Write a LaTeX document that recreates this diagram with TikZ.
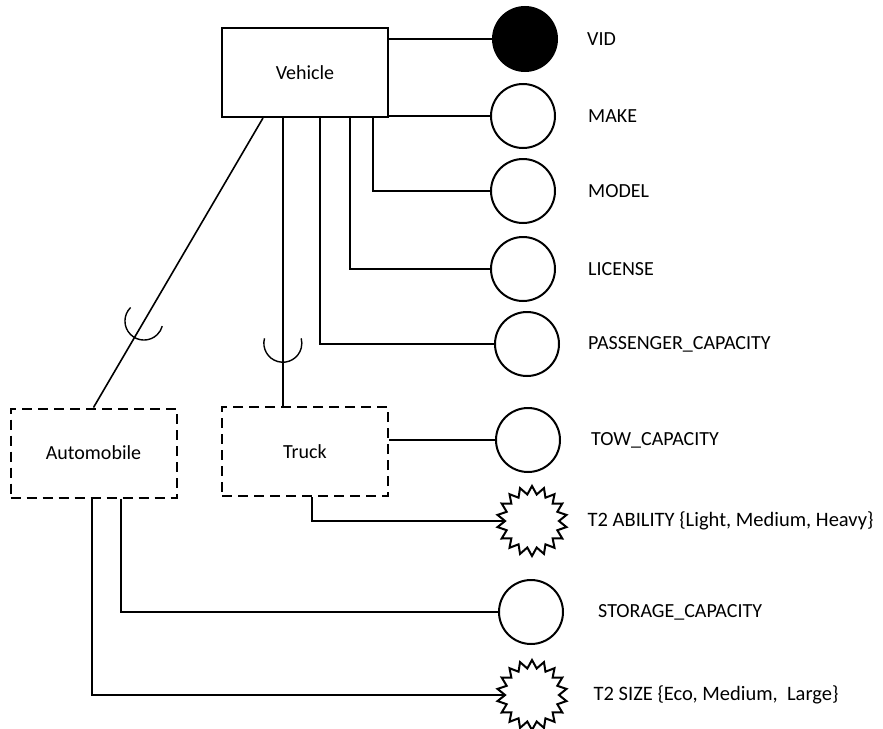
\documentclass[tikz,border=0pt]{standalone}
\usepackage{fontspec}
\setmainfont{Carlito}
\usepackage{tikz}
\usetikzlibrary{shapes.geometric, positioning, calc, decorations.markings}
\tikzset{
  % Entity boxes
  entity/.style={
    rectangle, minimum width=166pt, minimum height=89pt,
    draw=black, fill=white, line width=2pt, font=\fontsize{20}{24}\selectfont,
    inner sep=0pt,
  },
  % Subclass boxes
  subentity/.style={entity, dashed, dash pattern=on 10pt off 6pt},
  % Attributes
  attr/.style={
    circle, minimum size=64pt, inner sep=0pt, draw=black, line width=2pt,
  },
  keyattr/.style={attr, fill=black},
  % Type attributes
  typeattr/.style={
    star, star points=18, star point ratio=1.3, minimum size=70pt,
    inner sep=0pt, draw=black, line width=2pt,
  },
  % Attribute names
  attrlabel/.style={font=\fontsize{20}{24}\selectfont, inner sep=0pt, anchor=west},
  typelabel/.style={attrlabel, font=\fontsize{20.5}{24}\selectfont},
  % Connectors
  link/.style={line width=1.6pt},
  % Subset cup on a connector
  subset/.style={
    postaction={decorate, decoration={markings,
      mark=at position #1 with {
        \draw[line width=1.4pt] (-24.5pt,-18.5pt) arc[start angle=-105, end angle=105, radius=19pt];
      }}}
  },
}

\begin{document}
\begin{tikzpicture}[x=1pt, y=1pt]
  \useasboundingbox (0,0) rectangle (883,-728);

  % Entities
  \node[entity] (vehicle) at (305,-72.5) {Vehicle};
  \node[subentity] (truck) at (305,-451.5) {Truck};
  \node[subentity] (automobile) at (93.5,-453) {Automobile};

  % Vehicle attributes
  \node[keyattr] (vid) at (525,-39) {};
  \node[attr] (make) at (523,-116) {};
  \node[attr] (model) at (523,-191) {};
  \node[attr] (license) at (523,-269) {};
  \node[attr] (passenger) at (527,-344) {};

  % Subclass attributes
  \node[attr] (tow) at (528,-440) {};
  \node[typeattr] (ability) at (532,-521) {};
  \node[attr] (storage) at (531,-612) {};
  \node[typeattr] (size) at (532,-695) {};

  % Labels
  \node[attrlabel, right=29pt of vid] (vidlbl) {VID};
  \node[attrlabel, right=32pt of make] (makelbl) {MAKE};
  \node[attrlabel, right=32pt of model] (modellbl) {MODEL};
  \node[attrlabel, right=32pt of license] (licenselbl) {LICENSE};
  \node[attrlabel, right=28pt of passenger] (passengerlbl) {PASSENGER\_CAPACITY};
  \node[attrlabel, right=30pt of tow] (towlbl) {TOW\_CAPACITY};
  \node[typelabel, right=27pt of ability] (abilitylbl) {T2 ABILITY \{Light, Medium, Heavy\}};
  \node[attrlabel, right=34pt of storage] (storagelbl) {STORAGE\_CAPACITY};
  \node[typelabel, right=33pt of size] (sizelbl) {T2 SIZE \{Eco, Medium,\ \ Large\}};

  % Vehicle links
  \draw[link] (vehicle.east |- vid) -- (vid);
  \draw[link] (vehicle.east |- make) -- (make);
  \draw[link] ([xshift=68pt]vehicle.south) |- (model);
  \draw[link] ([xshift=45pt]vehicle.south) |- (license);
  \draw[link] ([xshift=15pt]vehicle.south) |- (passenger);

  % Subclasses
  \draw[link, subset=0.76] ([xshift=-42pt]vehicle.south) -- (automobile.north);
  \draw[link, subset=0.85] ([xshift=-22pt]vehicle.south) -- ([xshift=-22pt]truck.north);

  % Subclass links
  \draw[link] (truck.east |- tow) -- (tow);
  \draw[link] ([xshift=7pt]truck.south) |- (ability);
  \draw[link] ([xshift=27.5pt]automobile.south) |- (storage);
  \draw[link] ([xshift=-1.5pt]automobile.south) |- (size);

\end{tikzpicture}
\end{document}
